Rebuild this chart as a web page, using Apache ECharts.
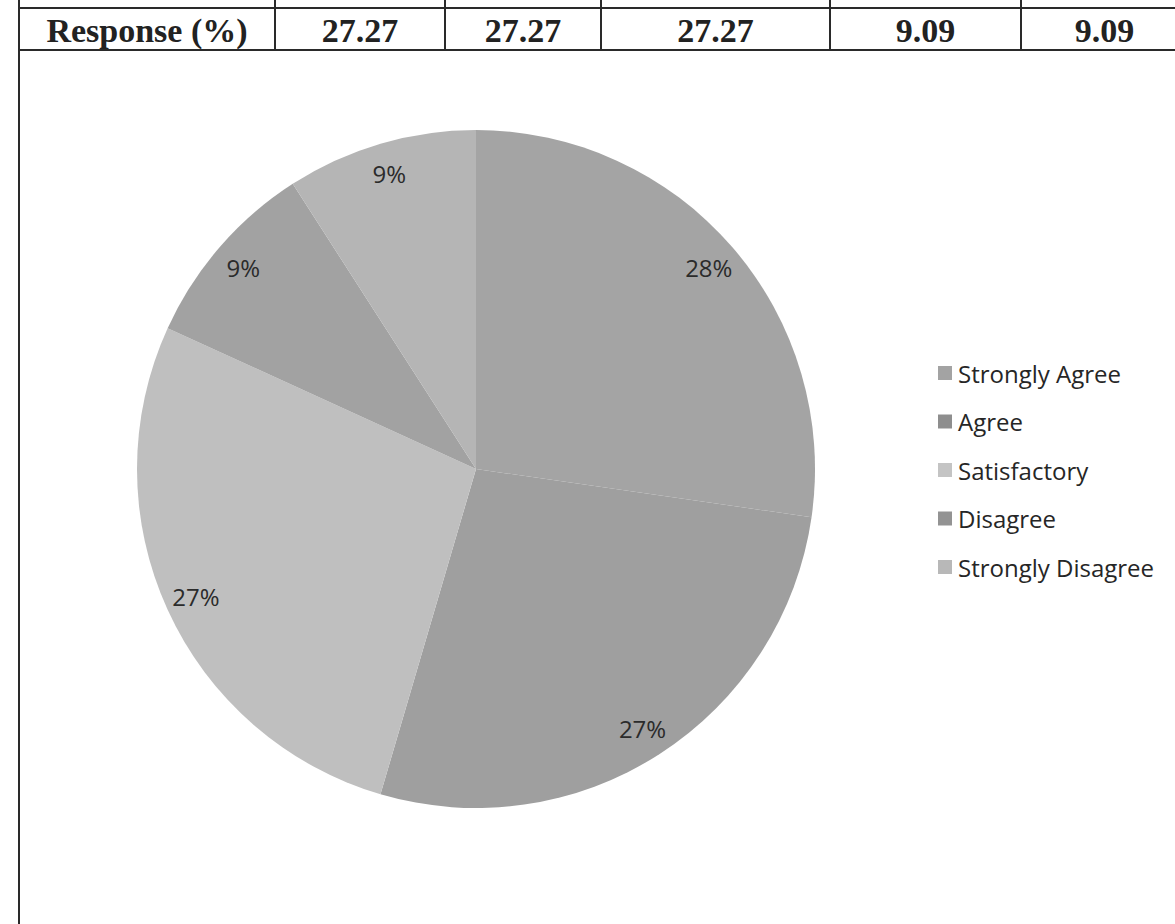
<!DOCTYPE html>
<html>
<head>
<meta charset="utf-8">
<script src="https://cdn.jsdelivr.net/npm/echarts@6/dist/echarts.min.js"></script>
<style>
html,body{margin:0;padding:0;background:#fff;}
#chart{width:1175px;height:924px;}
</style>
</head>
<body>
<div id="chart"></div>
<script>
// ---- data ----
var categories = ['Strongly Agree', 'Agree', 'Satisfactory', 'Disagree', 'Strongly Disagree'];
var responses = [27.27, 27.27, 27.27, 9.09, 9.09];
var rowLabel = 'Response (%)';

// ---- styles ----
var sliceColors = ['#a4a4a4', '#9f9f9f', '#bfbfbf', '#a2a2a2', '#b5b5b5'];
var legendColors = ['#a3a3a3', '#8e8e8e', '#c4c4c4', '#939393', '#b8b8b8'];
var colEdges = [19, 275, 445, 601, 830, 1021, 1188];
var rowTop = 8, rowBottom = 50;
var lineColor = '#2a2a2a';

var chart = echarts.init(document.getElementById('chart'), null, {renderer: 'svg'});

var graphics = [];
[rowTop, rowBottom].forEach(function (y) {
  graphics.push({type: 'line', shape: {x1: colEdges[0], y1: y, x2: 1175, y2: y},
    style: {stroke: lineColor, lineWidth: 2}});
});
colEdges.forEach(function (x, i) {
  if (x > 1175) return;
  graphics.push({type: 'line', shape: {x1: x, y1: 0, x2: x, y2: i === 0 ? 924 : rowBottom},
    style: {stroke: lineColor, lineWidth: 2}});
});
var cellTexts = [rowLabel].concat(responses.map(function (v) { return v.toFixed(2); }));
cellTexts.forEach(function (t, i) {
  graphics.push({type: 'text', x: (colEdges[i] + colEdges[i + 1]) / 2, y: (rowTop + rowBottom) / 2 + 1,
    style: {text: t, fill: '#222', font: 'bold 34px "Liberation Serif"', align: 'center', verticalAlign: 'middle'}});
});

var pieData = categories.map(function (c, i) {
  return {name: c, value: responses[i], itemStyle: {color: sliceColors[i]}};
});
var labelData = categories.map(function (c, i) {
  return {name: c, value: responses[i]};
});

chart.setOption({
  animation: false,
  graphic: graphics,
  legend: {
    orient: 'vertical',
    left: 938,
    top: 361,
    padding: 0,
    itemWidth: 14,
    itemHeight: 14,
    itemGap: 24.5,
    icon: 'rect',
    selectedMode: false,
    data: categories.map(function (c, i) { return {name: c, itemStyle: {color: legendColors[i]}}; }),
    textStyle: {fontFamily: 'Open Sans', fontSize: 24, color: '#262626', lineHeight: 24, padding: [0, 0, 0, 1]}
  },
  series: [
    {
      type: 'pie',
      center: [476, 469],
      radius: 339,
      startAngle: 90,
      clockwise: true,
      silent: true,
      label: {show: false},
      labelLine: {show: false},
      itemStyle: {borderWidth: 0},
      data: pieData
    },
    {
      type: 'pie',
      center: [476, 469],
      radius: [271, 339],
      startAngle: 90,
      clockwise: true,
      silent: true,
      percentPrecision: 0,
      itemStyle: {color: 'rgba(0,0,0,0)', borderWidth: 0},
      label: {show: true, position: 'inside', formatter: '{d}%', fontFamily: 'Open Sans', fontSize: 24, color: '#2b2b2b'},
      labelLine: {show: false},
      data: labelData
    }
  ]
});
</script>
</body>
</html>
